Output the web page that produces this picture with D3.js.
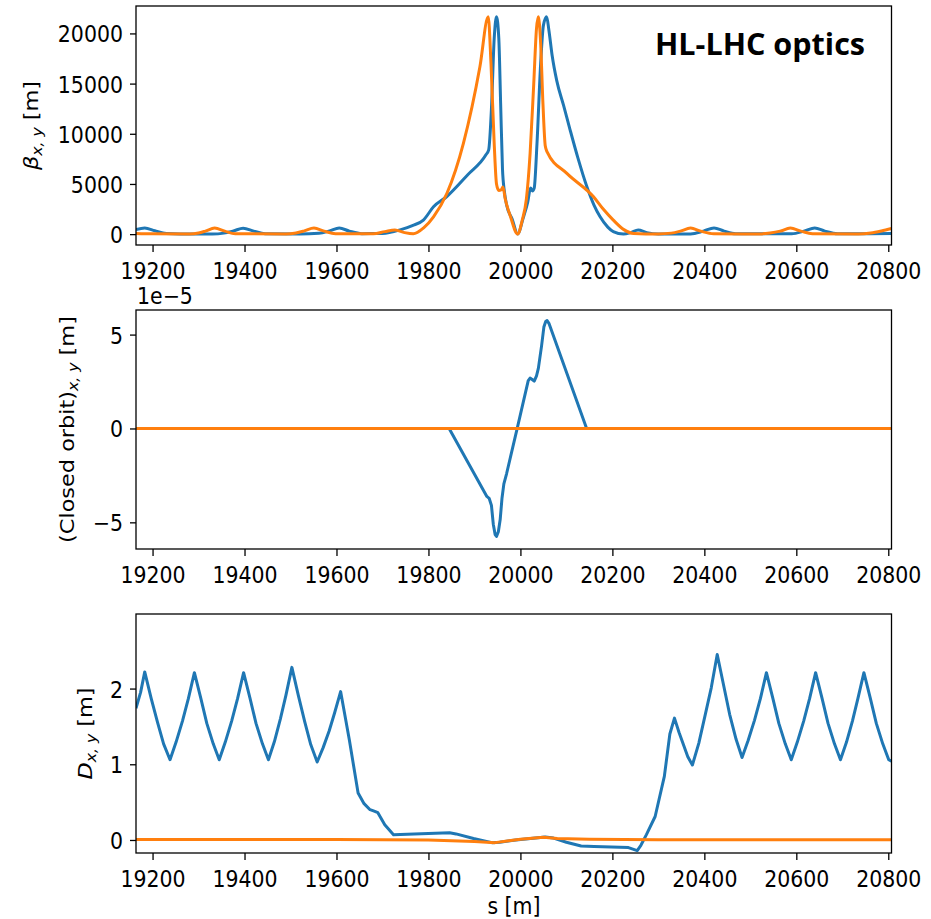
<!DOCTYPE html>
<html><head><meta charset="utf-8">
<script src="https://cdn.jsdelivr.net/npm/d3@7"></script>
<style>body{margin:0;background:#fff}svg{display:block}text{font-family:"DejaVu Sans",sans-serif;fill:#000}</style>
</head><body>
<svg id="c" width="931" height="919"></svg>
<script>
// ---- data ----
const sTicks = [19200, 19400, 19600, 19800, 20000, 20200, 20400, 20600, 20800];
const betaTicks = [0, 5000, 10000, 15000, 20000];
const betaTickLabels = ["0", "5000", "10000", "15000", "20000"];
const orbitTicks = [-5, 0, 5];
const orbitTickLabels = ["\u22125", "0", "5"];
const dispTicks = [0, 1, 2];
const dispTickLabels = ["0", "1", "2"];

const betaX = [[19164,450],[19183,610],[19205,330],[19230,60],[19260,15],[19330,15],[19355,100],[19376,320],[19397,590],[19420,300],[19445,45],[19520,15],[19562,80],[19585,320],[19606,610],[19628,300],[19655,50],[19700,60],[19740,450],[19765,850],[19789,1400],[19811,2720],[19840,3750],[19885,5900],[19925,7900],[19931,8400],[19937,12500],[19943,19500],[19948,21650],[19953,19500],[19957,13000],[19961,6500],[19965,4300],[19970,2900],[19982,1500],[19994,20],[20006,1600],[20016,3200],[20022,4600],[20026,4300],[20030,4600],[20036,9000],[20044,17000],[20050,20800],[20057,21650],[20062,20300],[20069,17800],[20079,15300],[20094,12800],[20108,10400],[20125,7600],[20144,4800],[20160,2900],[20173,1750],[20190,700],[20202,250],[20224,10],[20240,150],[20256,400],[20275,150],[20300,25],[20370,20],[20398,300],[20421,620],[20443,300],[20468,40],[20590,30],[20618,320],[20640,620],[20662,300],[20690,40],[20807,60]];
const betaY = [[19164,70],[19200,30],[19280,20],[19300,110],[19315,300],[19335,600],[19357,300],[19380,40],[19490,20],[19512,120],[19530,320],[19551,600],[19573,300],[19598,40],[19680,40],[19705,250],[19727,420],[19748,150],[19767,30],[19789,600],[19811,1730],[19840,4050],[19876,9050],[19912,16700],[19930,21650],[19936,17000],[19943,9000],[19948,5000],[19953,4350],[19958,4400],[19962,4700],[19967,3500],[19978,1800],[19994,20],[20004,1400],[20013,3500],[20021,8000],[20029,15000],[20035,20500],[20039,21650],[20044,19000],[20049,13000],[20054,8800],[20058,8200],[20101,6050],[20159,3720],[20180,2500],[20202,1400],[20225,450],[20246,70],[20300,20],[20328,100],[20348,300],[20370,600],[20392,300],[20420,40],[20520,20],[20543,110],[20565,300],[20587,600],[20610,300],[20635,40],[20735,20],[20762,120],[20785,320],[20807,560]];

// closed orbit in units of 1e-5 m
const orbitX = [[19164,0],[19845,0],[19927,-3.62],[19932,-3.72],[19937,-4.1],[19941,-5.1],[19945,-5.65],[19948,-5.75],[19952,-5.5],[19956,-4.85],[19960,-3.7],[19964,-2.95],[19970,-2.4],[19993,0],[20017,2.55],[20021,2.68],[20025,2.62],[20030,2.52],[20035,2.8],[20039,3.2],[20046,4.4],[20051,5.4],[20055,5.7],[20058,5.75],[20062,5.6],[20144,0],[20807,0]];
const orbitY = [[19164,0],[20807,0]];

const dispX = [[19164,1.74],[19174,1.95],[19183,2.22],[19197,1.87],[19211,1.55],[19224,1.27],[19238,1.06],[19251,1.29],[19265,1.57],[19278,1.87],[19291,2.21],[19305,1.87],[19318,1.54],[19332,1.27],[19345,1.06],[19358,1.29],[19372,1.57],[19385,1.87],[19398,2.21],[19412,1.87],[19425,1.54],[19439,1.27],[19452,1.06],[19465,1.30],[19478,1.60],[19490,1.91],[19503,2.28],[19517,1.91],[19531,1.56],[19544,1.26],[19558,1.03],[19571,1.22],[19584,1.44],[19596,1.68],[19609,1.96],[19628,1.32],[19647,0.62],[19660,0.48],[19673,0.40],[19682,0.38],[19690,0.36],[19705,0.2],[19724,0.07],[19769,0.08],[19846,0.095],[19860,0.08],[19898,0.02],[19938,-0.035],[19955,-0.03],[19990,0.0],[20054,0.04],[20072,0.025],[20100,-0.03],[20132,-0.08],[20160,-0.085],[20235,-0.10],[20254,-0.14],[20262,-0.07],[20274,0.07],[20293,0.31],[20313,0.84],[20325,1.40],[20335,1.61],[20345,1.42],[20355,1.25],[20364,1.10],[20374,0.99],[20388,1.28],[20401,1.63],[20415,2.01],[20428,2.45],[20442,2.04],[20455,1.66],[20469,1.33],[20482,1.09],[20495,1.31],[20509,1.58],[20522,1.87],[20535,2.21],[20549,1.87],[20562,1.54],[20576,1.27],[20589,1.06],[20602,1.29],[20616,1.57],[20629,1.87],[20642,2.21],[20656,1.87],[20669,1.54],[20683,1.27],[20696,1.06],[20709,1.29],[20722,1.57],[20734,1.87],[20747,2.21],[20761,1.87],[20774,1.54],[20788,1.27],[20801,1.06],[20807,1.04]];
const dispY = [[19164,0.005],[19600,0.005],[19800,0.0],[19900,-0.02],[19945,-0.035],[19975,-0.01],[20000,0.01],[20050,0.035],[20080,0.02],[20150,0.01],[20300,0.003],[20807,0.003]];

// ---- layout ----
const svg = d3.select("#c");
const L = 136, R = 891.5;
const SY = 1.12; // vertical text stretch
const blue = "#1f77b4", orange = "#ff7f0e";
const x = d3.scaleLinear().domain([19164, 20807]).range([L, R]);

const panels = [
  {top: 6, bottom: 245, domain: [-1083, 22733], ticks: betaTicks, labels: betaTickLabels, series: [betaX, betaY], ylab: "beta", labX: 31, curve: d3.curveMonotoneX},
  {top: 310, bottom: 549, domain: [-6.42, 6.31], ticks: orbitTicks, labels: orbitTickLabels, series: [orbitX, orbitY], ylab: "orbit", labX: 67, curve: d3.curveLinear},
  {top: 614, bottom: 853, domain: [-0.172, 2.985], ticks: dispTicks, labels: dispTickLabels, series: [dispX, dispY], ylab: "disp", labX: 85, curve: d3.curveLinear}
];

panels.forEach((p, i) => {
  const y = d3.scaleLinear().domain(p.domain).range([p.bottom, p.top]);
  const g = svg.append("g");
  const cid = "clip" + i;
  svg.append("defs").append("clipPath").attr("id", cid)
    .append("rect").attr("x", L).attr("y", p.top).attr("width", R - L).attr("height", p.bottom - p.top);
  const line = d3.line().x(d => x(d[0])).y(d => y(d[1])).curve(p.curve);
  const colors = [blue, orange];
  p.series.forEach((ser, k) => {
    g.append("path").datum(ser).attr("d", line).attr("clip-path", `url(#${cid})`)
      .attr("fill", "none").attr("stroke", colors[k]).attr("stroke-width", 3)
      .attr("stroke-linejoin", "round").attr("stroke-linecap", "butt");
  });
  // frame
  g.append("rect").attr("x", L).attr("y", p.top).attr("width", R - L).attr("height", p.bottom - p.top)
    .attr("fill", "none").attr("stroke", "#000").attr("stroke-width", 1.3);
  // x axis
  const xa = d3.axisBottom(x).tickValues(sTicks).tickSize(7).tickFormat(d => d);
  const gx = g.append("g").attr("transform", `translate(0,${p.bottom})`).call(xa);
  gx.select(".domain").remove();
  gx.selectAll(".tick line").attr("stroke", "#000").attr("stroke-width", 1.3);
  gx.selectAll(".tick text").attr("y", 34 / SY).attr("dy", 0).attr("transform", `scale(1,${SY})`)
    .style("font-size", "20.5px").attr("fill", "#000");
  // y axis
  const ya = d3.axisLeft(y).tickValues(p.ticks).tickSize(6).tickFormat((d, j) => p.labels[j]);
  const gy = g.append("g").attr("transform", `translate(${L},0)`).call(ya);
  gy.select(".domain").remove();
  gy.selectAll(".tick line").attr("stroke", "#000").attr("stroke-width", 1.3);
  gy.selectAll(".tick text").attr("x", -13).attr("y", 7.6).attr("dy", 0).attr("transform", `scale(1,${SY})`)
    .style("font-size", "20.5px").attr("fill", "#000");
  // y label
  const cy = (p.top + p.bottom) / 2;
  const t = svg.append("text").attr("transform", `translate(${p.labX},${cy}) scale(1,${SY}) rotate(-90)`)
    .attr("text-anchor", "middle").attr("dy", "0.36em").style("font-size", "20px");
  if (p.ylab === "beta") {
    t.append("tspan").style("font-style", "italic").text("\u03B2");
    t.append("tspan").style("font-style", "italic").style("font-size", "14px").attr("dy", "4").text("x, y");
    t.append("tspan").attr("dy", "-4").text(" [m]");
  } else if (p.ylab === "orbit") {
    t.append("tspan").text("(Closed orbit)");
    t.append("tspan").style("font-style", "italic").style("font-size", "14px").attr("dy", "4").text("x, y");
    t.append("tspan").attr("dy", "-4").text(" [m]");
  } else {
    t.append("tspan").style("font-style", "italic").text("D");
    t.append("tspan").style("font-style", "italic").style("font-size", "14px").attr("dy", "4").text("x, y");
    t.append("tspan").attr("dy", "-4").text(" [m]");
  }
});

// offset text
svg.append("text").attr("transform", `translate(137,304) scale(1,${SY})`).style("font-size", "20.5px").text("1e\u22125");
// x label
svg.append("text").attr("transform", `translate(514,914) scale(1,${SY})`).attr("text-anchor", "middle")
  .style("font-size", "20.5px").text("s [m]");
// title annotation
svg.append("text").attr("x", 655).attr("y", 55).attr("textLength", 210).attr("lengthAdjust", "spacingAndGlyphs")
  .style("font-family", "'Open Sans', sans-serif").style("font-weight", "bold").style("font-size", "31px")
  .text("HL-LHC optics");
</script>
</body></html>
